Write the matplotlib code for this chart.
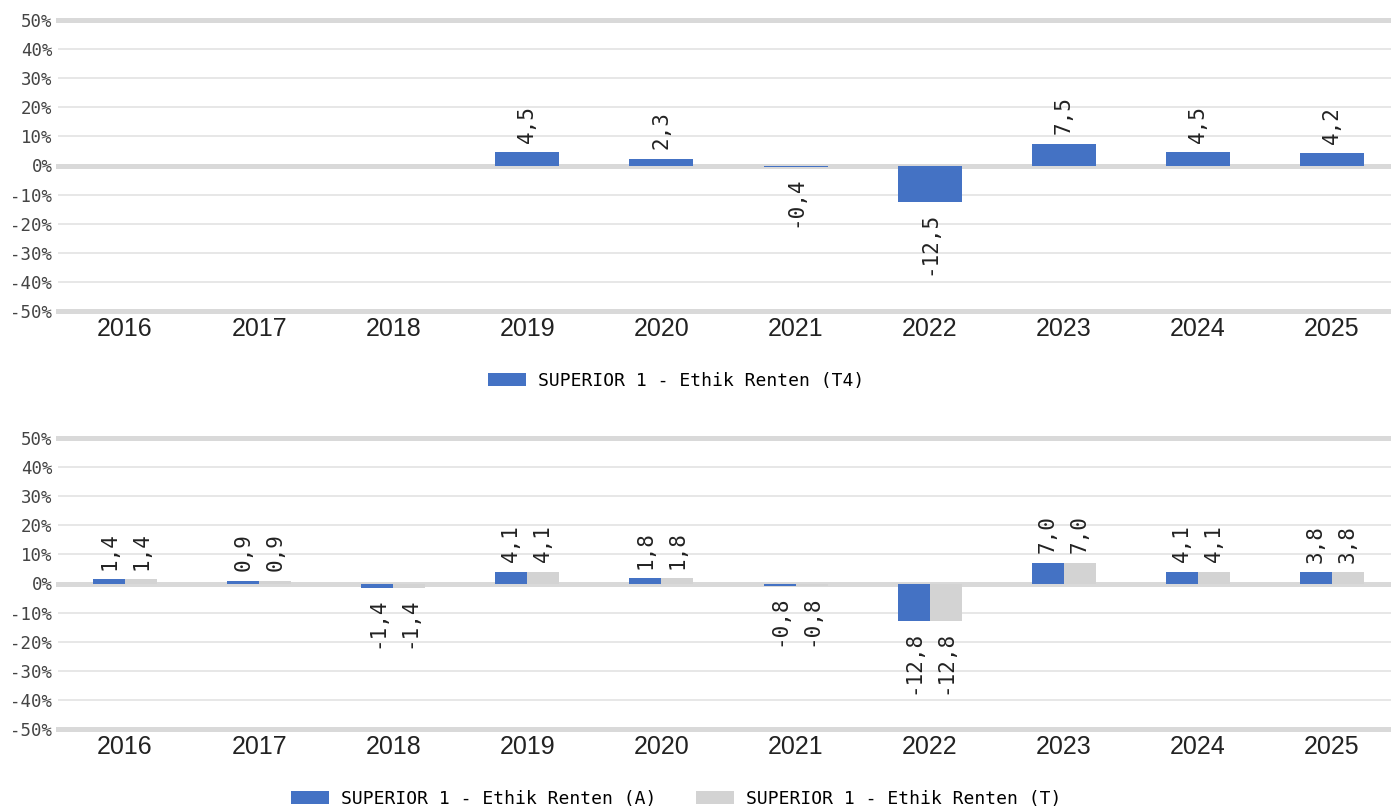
import matplotlib
matplotlib.use('Agg')
import matplotlib.pyplot as plt
import numpy as np

# data
years = ['2016', '2017', '2018', '2019', '2020', '2021', '2022', '2023', '2024', '2025']
t4 = [np.nan, np.nan, np.nan, 4.5, 2.3, -0.4, -12.5, 7.5, 4.5, 4.2]
anteil_a = [1.4, 0.9, -1.4, 4.1, 1.8, -0.8, -12.8, 7.0, 4.1, 3.8]
anteil_t = [1.4, 0.9, -1.4, 4.1, 1.8, -0.8, -12.8, 7.0, 4.1, 3.8]
y_ticks = [-50, -40, -30, -20, -10, 0, 10, 20, 30, 40, 50]

name_t4 = 'SUPERIOR 1 - Ethik Renten (T4)'
name_a = 'SUPERIOR 1 - Ethik Renten (A)'
name_t = 'SUPERIOR 1 - Ethik Renten (T)'

BLUE = '#4472c4'
GRAY = '#d3d3d3'
W, H = 1391, 808
MONO = 'DejaVu Sans Mono'
SANS = 'Liberation Sans'


def fmt(v):
    return f'{v:.1f}'.replace('.', ',')


def style_axis(ax):
    ax.set_ylim(-50, 50)
    ax.set_xlim(-0.5, len(years) - 0.5)
    for s in ax.spines.values():
        s.set_visible(False)
    for t in y_ticks:
        if t in (-50, 0, 50):
            ax.axhline(t, color='#d9d9d9', lw=3.6, zorder=0, clip_on=False)
        else:
            ax.axhline(t, color='#e3e3e3', lw=1.2, zorder=0)
    ax.set_yticks(y_ticks)
    ax.set_yticklabels([f'{t}%' for t in y_ticks], fontfamily=MONO,
                       fontsize=12.5, color='#444444')
    ax.set_xticks(range(len(years)))
    ax.set_xticklabels(years, fontfamily=SANS, fontsize=18, color='#222222')
    ax.tick_params(axis='both', length=0)
    ax.tick_params(axis='y', pad=4)
    ax.tick_params(axis='x', pad=4.5)


def label_bars(ax, bars, values):
    for b, v in zip(bars, values):
        if np.isnan(v):
            continue
        x = b.get_x() + b.get_width() / 2
        if v >= 0:
            ax.annotate(fmt(v), (x, v), xytext=(0, 7), textcoords='offset points',
                        rotation=90, ha='center', va='bottom',
                        fontfamily=MONO, fontsize=15, color='#222222')
        else:
            ax.annotate(fmt(v), (x, v), xytext=(0, -7), textcoords='offset points',
                        rotation=90, ha='center', va='top',
                        fontfamily=MONO, fontsize=15, color='#222222')


fig = plt.figure(figsize=(W / 100, H / 100), dpi=100)
left = 58 / W
width = (1399 - 58) / W

ax1 = fig.add_axes([left, 1 - 311 / H, width, (311 - 20) / H])
ax2 = fig.add_axes([left, 1 - 729 / H, width, (729 - 438) / H])

x = np.arange(len(years))
bw = 0.477

# top panel
style_axis(ax1)
b1 = ax1.bar(x, t4, bw, color=BLUE, label=name_t4, zorder=2)
label_bars(ax1, b1, t4)

# bottom panel
style_axis(ax2)
b2 = ax2.bar(x - bw / 4, anteil_a, bw / 2, color=BLUE, label=name_a, zorder=2)
b3 = ax2.bar(x + bw / 4, anteil_t, bw / 2, color=GRAY, label=name_t, zorder=2)
label_bars(ax2, b2, anteil_a)
label_bars(ax2, b3, anteil_t)

leg_kw = dict(loc='center', frameon=False, handlelength=2.1, handleheight=0.72,
              handletextpad=0.65, prop={'family': MONO, 'size': 13})
fig.legend(handles=[b1], labels=[name_t4], bbox_to_anchor=(676 / W, 1 - 381 / H), **leg_kw)
fig.legend(handles=[b2, b3], labels=[name_a, name_t], ncol=2, columnspacing=2.2,
           bbox_to_anchor=(676 / W, 1 - 799 / H), **leg_kw)

fig.savefig('out.png', dpi=100)
